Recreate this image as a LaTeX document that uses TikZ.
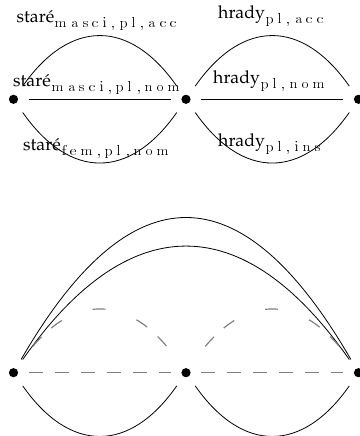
\documentclass[tikz,border=0pt]{standalone}
\usepackage[T1]{fontenc}
\renewcommand{\rmdefault}{ppl}
\def\spk{4.5pt}
\def\spaced#1{\spacedfirst#1\relax}
\def\spacedfirst#1{#1\spacedrest}
\def\spacedrest#1{\ifx#1\relax\else\kern\spk#1\expandafter\spacedrest\fi}
\newcommand{\sbs}[1]{\kern1.5pt\raisebox{-5pt}{\fontfamily{lmr}\fontsize{14}{14}\selectfont\spaced{#1}}}
\begin{document}
\begin{tikzpicture}[x=1pt,y=1pt,
  vtx/.style={minimum width=30pt,minimum height=26pt,inner sep=0pt},
  arc/.style={line width=0.8pt},
  dsh/.style={draw=black!50,line width=1.2pt},
  lab/.style={inner sep=0pt,anchor=base west,font=\fontsize{17.7}{21}\selectfont}]
\useasboundingbox (0,0) rectangle (359,436);
% vertices
\node[vtx] (t1) at (13.5,336.7) {};
\node[vtx] (t2) at (186,336.7) {};
\node[vtx] (t3) at (358.5,336.7) {};
\node[vtx] (b1) at (13.5,63.3) {};
\node[vtx] (b2) at (186,63.3) {};
\node[vtx] (b3) at (358.5,63.3) {};
\foreach \n in {t1,t2,t3,b1,b2,b3} \fill (\n.center) circle (4.6pt);
% top lattice
\draw[arc] (t1) to[out=55,in=125,looseness=1.37] (t2);
\draw[arc] (t1) -- (t2);
\draw[arc] (t1) to[out=-55,in=-125,looseness=1.37] (t2);
\draw[arc] (t2) to[out=55,in=125,looseness=1.37] (t3);
\draw[arc] (t2) -- (t3);
\draw[arc] (t2) to[out=-55,in=-125,looseness=1.37] (t3);
% labels
\node[lab] (s1) at (16.5,413) {star\'e\sbs{masci,pl,acc}};
\node[lab] (s2) at (13,349) {star\'e\sbs{masci,pl,nom}};
\node[lab] (s3) at (23,285) {star\'e\sbs{fem,pl,nom}};
\node[lab] (h1) at (218,417) {hrady\sbs{pl,acc}};
\node[lab] (h2) at (213,352.5) {hrady\sbs{pl,nom}};
\node[lab] (h3) at (218,289) {hrady\sbs{pl,ins}};
% bottom lattice
\draw[arc] (b1) to[out=60,in=120,looseness=1.70] (b3);
\draw[arc] (b1) to[out=55,in=125,looseness=1.45] (b3);
\draw[dsh,dash pattern=on 0pt off 16.5pt on 13pt off 13pt on 13pt off 33pt on 13pt off 33pt on 13pt off 14pt on 13pt off 200pt]
  (b1) to[out=55,in=125,looseness=1.37] (b2);
\draw[dsh,dash pattern=on 0pt off 16.5pt on 13pt off 13pt on 13pt off 33pt on 13pt off 33pt on 13pt off 14pt on 13pt off 200pt]
  (b2) to[out=55,in=125,looseness=1.37] (b3);
\draw[dsh,dash pattern=on 14pt off 12pt] (b1) -- (b2);
\draw[dsh,dash pattern=on 14pt off 12pt] (b2) -- (b3);
\draw[arc] (b1) to[out=-55,in=-125,looseness=1.37] (b2);
\draw[arc] (b2) to[out=-55,in=-125,looseness=1.37] (b3);
\end{tikzpicture}
\end{document}
